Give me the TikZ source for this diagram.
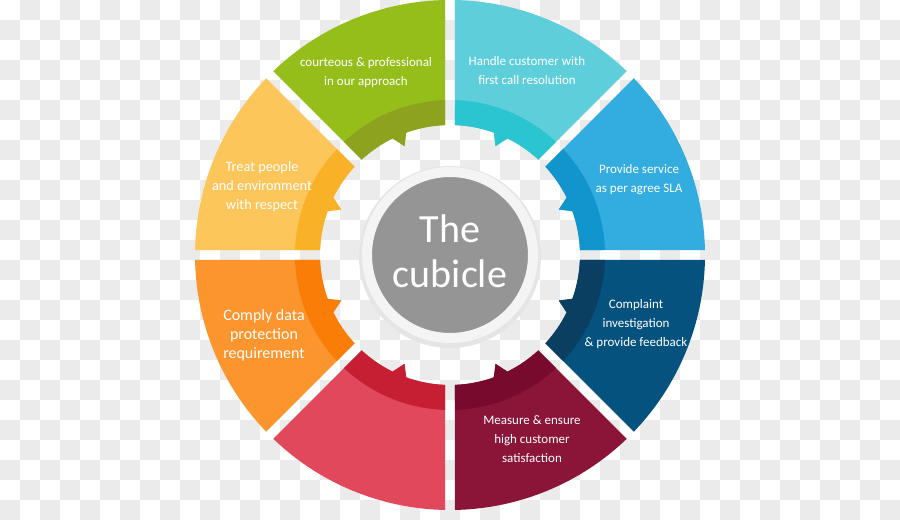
\documentclass[tikz,border=0pt]{standalone}
\usepackage{fontspec}
\setmainfont{Carlito}
\usetikzlibrary{calc}

\definecolor{grnL}{HTML}{95BE1B}
\definecolor{grnD}{HTML}{8DA21F}
\definecolor{cyaL}{HTML}{5ECFDA}
\definecolor{cyaD}{HTML}{2BC5D1}
\definecolor{bluL}{HTML}{33ACE0}
\definecolor{bluD}{HTML}{1294CC}
\definecolor{navL}{HTML}{06527F}
\definecolor{navD}{HTML}{0B3F61}
\definecolor{marL}{HTML}{8A1538}
\definecolor{marD}{HTML}{780A2D}
\definecolor{redL}{HTML}{E1485B}
\definecolor{redD}{HTML}{C61F33}
\definecolor{oraL}{HTML}{FC952E}
\definecolor{oraD}{HTML}{F97D07}
\definecolor{yelL}{HTML}{FCC65B}
\definecolor{yelD}{HTML}{F9B228}
\definecolor{chk}{HTML}{EBEBEB}
\definecolor{hubgray}{HTML}{959595}
\definecolor{ringwhite}{HTML}{F4F4F4}

\tikzset{
  seglabel/.style={text=white, align=center, font=\fontsize{13}{19}\selectfont},
  hub/.style={circle, fill=hubgray, draw=ringwhite, line width=10pt,
    minimum size=166pt, inner sep=0pt},
  hubtext/.style={text=white, align=center, font=\fontsize{40}{45}\selectfont}
}

\begin{document}
\begin{tikzpicture}[x=1pt,y=1pt]
\useasboundingbox (0,0) rectangle (900,520);

% Background checks
\fill[white] (0,0) rectangle (900,520);
\foreach \i in {0,...,44}
  \foreach \j in {0,...,25}{
    \pgfmathtruncatemacro\odd{mod(\i+\j,2)}
    \ifnum\odd=1 \fill[chk] ({20*\i},{500-20*\j}) rectangle ++(20,20); \fi
  }

% Ring segments: start angle / light / dark / side of the tooth
\begin{scope}[shift={(450,265)}]
\foreach \a/\lc/\dc/\s in {90/grnL/grnD/1, 45/cyaL/cyaD/-1, 0/bluL/bluD/1,
    -45/navL/navD/-1, -90/marL/marD/1, -135/redL/redD/-1,
    180/oraL/oraD/1, 135/yelL/yelD/-1}{
  \pgfmathsetmacro\m{\a+22.5}
  \pgfmathsetmacro\lo{min(\m-\s*2.8,\m+\s*3.7)}
  \pgfmathsetmacro\hi{max(\m-\s*2.8,\m+\s*3.7)}
  \pgfmathsetmacro\tip{\m+\s*0.2}
  \fill[\lc] (\a+1.12:255pt) arc[start angle=\a+1.12, end angle=\a+43.88, radius=255pt]
    -- (\a+42.8:130pt) arc[start angle=\a+42.8, end angle=\hi, radius=130pt]
    -- (\tip:118pt) -- (\lo:130pt) arc[start angle=\lo, end angle=\a+2.2, radius=130pt]
    -- cycle;
  \fill[\dc] (\a+1.85:155pt) arc[start angle=\a+1.85, end angle=\a+43.15, radius=155pt]
    -- (\a+42.8:130pt) arc[start angle=\a+42.8, end angle=\hi, radius=130pt]
    -- (\tip:118pt) -- (\lo:130pt) arc[start angle=\lo, end angle=\a+2.2, radius=130pt]
    -- cycle;
}
\end{scope}

% Labels
\node[seglabel] (polite) at (366,447) {courteous \& professional\\in our approach};
\node[seglabel] (handle) at (527,449.5) {Handle customer with\\first call resolution};
\node[seglabel] (service) at (639,340.5) {Provide service\\as per agree SLA};
\node[seglabel] (complaint) at (636,196) {Complaint\\investigation\\\& provide feedback};
\node[seglabel] (measure) at (532,81.3) {Measure \& ensure\\high customer\\satisfaction};
\node[seglabel, font=\fontsize{16}{19}\selectfont] (comply) at (264,185) {Comply data\\protection\\requirement};
\node[seglabel, font=\fontsize{14.3}{19}\selectfont] (respect) at (262,333) {Treat people\\and environment\\with respect};

% Centre
\fill[black!10] (450,263) circle (91pt);
\node[hub] (cubicle) at (450,265) {};
\node[hubtext] (title) at ([yshift=4pt]cubicle.center) {The\\cubicle};
\end{tikzpicture}
\end{document}
